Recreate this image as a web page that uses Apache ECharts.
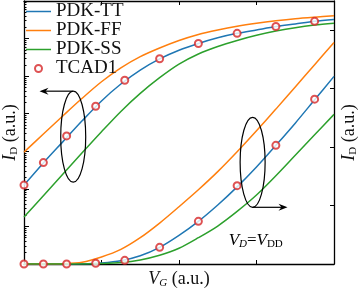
<!DOCTYPE html>
<html><head><meta charset="utf-8">
<script src="https://cdn.jsdelivr.net/npm/echarts@6/dist/echarts.min.js"></script>
<style>html,body{margin:0;padding:0;background:#fff}#c{width:359px;height:289px}</style>
</head><body><div id="c"></div>
<script>
// ---- data ----
const vg = [0, 0.25, 0.5, 0.75, 1, 1.25, 1.5, 1.75, 2, 2.25, 2.5, 2.75, 3, 3.25, 3.5, 3.75, 4];
// log-scale currents (left axis)
const ttLog = [1.26e-5, 4.9e-5, 1.78e-4, 6.46e-4, 2.19e-3, 6.17e-3, 1.45e-2, 2.88e-2, 4.9e-2, 7.41e-2, 0.105, 0.138, 0.170, 0.209, 0.245, 0.288, 0.324];
const ffLog = [9.5e-5, 2.88e-4, 8.7e-4, 2.57e-3, 7.08e-3, 1.66e-2, 3.31e-2, 5.62e-2, 8.91e-2, 0.129, 0.170, 0.214, 0.257, 0.299, 0.339, 0.372, 0.403];
const ssLog = [1.78e-6, 6.6e-6, 2.45e-5, 9.1e-5, 3.31e-4, 1.15e-3, 3.47e-3, 9.1e-3, 2.09e-2, 3.89e-2, 6.17e-2, 8.91e-2, 0.122, 0.158, 0.195, 0.229, 0.257];
// linear-scale currents (right axis)
const ttLin = [0, 0, 0, 0.003, 0.018, 0.055, 0.14, 0.285, 0.49, 0.73, 1.01, 1.32, 1.66, 2.03, 2.41, 2.81, 3.21];
const ffLin = [0, 0, 0.005, 0.03, 0.12, 0.25, 0.45, 0.70, 0.98, 1.27, 1.58, 1.92, 2.28, 2.65, 3.03, 3.41, 3.79];
const ssLin = [0, 0, 0, 0.001, 0.008, 0.025, 0.07, 0.15, 0.27, 0.45, 0.65, 0.90, 1.18, 1.51, 1.86, 2.21, 2.56];
// TCAD points
const vgTcad = [0, 0.25, 0.55, 0.925, 1.3, 1.75, 2.25, 2.75, 3.25, 3.75];
const tcadLog = [1.26e-5, 5.0e-5, 2.57e-4, 1.58e-3, 7.8e-3, 2.9e-2, 7.4e-2, 0.138, 0.209, 0.288];
const tcadLin = [0, 0, 0, 0.012, 0.063, 0.285, 0.73, 1.34, 2.03, 2.82];
// names
const seriesNames = ['PDK-TT', 'PDK-FF', 'PDK-SS', 'TCAD1'];
// annotation anchors (data coordinates)
const leftLoopCenter = [0.635, 2.45e-4];
const leftArrow = [[0.63, 3.98e-3], [0.20, 3.98e-3]];
const rightLoopCenter = [2.95, 1.74];
const rightArrow = [[2.95, 0.97], [3.40, 0.97]];
const vdLabelPos = [2.99, 0.41];

const colors = ['#1f77b4', '#ff7f0e', '#2ca02c', '#d62728'];
const FONT = 'Liberation Serif';
const zip = (xs, ys) => xs.map((x, i) => [x, ys[i]]);

const majorLog = [];
const minorLog = [];
for (let e = -7; e <= 0; e++) {
  majorLog.push(Math.pow(10, e));
  if (e < 0) for (let k = 2; k <= 9; k++) minorLog.push(k * Math.pow(10, e));
}

function rich(size) {
  return {
    i: { fontFamily: FONT, fontStyle: 'italic', fontSize: size, color: '#111' },
    s: { fontFamily: FONT, fontSize: 11, color: '#111', padding: [9, 0, 0, 0] },
    si: { fontFamily: FONT, fontStyle: 'italic', fontSize: 11, color: '#111', padding: [9, 0, 0, 0] },
    n: { fontFamily: FONT, fontSize: size, color: '#111' }
  };
}
const axisRich = rich(18);
const noteRich = rich(17);

const axisLineStyle = { color: '#000', width: 1.3 };
const lineIcon = 'path://M0,0L40,0L40,2.4L0,2.4Z';

const chart = echarts.init(document.getElementById('c'), null, { renderer: 'canvas' });

function lineSeries(name, data, color, yIdx) {
  return {
    type: 'line', name, data, xAxisIndex: 0, yAxisIndex: yIdx,
    symbol: 'none', smooth: 0.3,
    lineStyle: { color, width: 1.5 }, itemStyle: { color },
    animation: false, z: 2
  };
}
function tcadSeries(data, yIdx) {
  return {
    type: 'scatter', name: seriesNames[3], data, xAxisIndex: 0, yAxisIndex: yIdx,
    symbol: 'emptyCircle', symbolSize: 7,
    itemStyle: { color: colors[3], borderColor: colors[3], borderWidth: 1.5 },
    animation: false, z: 5
  };
}

chart.setOption({
  animation: false,
  backgroundColor: '#fff',
  grid: { left: 24, right: 25, top: 1, bottom: 25, containLabel: false, outerBoundsMode: 'none' },
  legend: {
    orient: 'vertical', left: 26, top: 2, padding: 0, itemWidth: 25, itemHeight: 7, itemGap: 0,
    data: [
      { name: seriesNames[0], icon: lineIcon },
      { name: seriesNames[1], icon: lineIcon },
      { name: seriesNames[2], icon: lineIcon },
      { name: seriesNames[3], icon: 'emptyCircle' }
    ],
    textStyle: { fontFamily: FONT, fontSize: 19, color: '#111' }
  },
  xAxis: [
    {
      type: 'value', min: 0, max: 4, interval: 1, position: 'bottom',
      axisLine: { lineStyle: axisLineStyle },
      axisTick: { inside: true, length: 4, lineStyle: { color: '#000' } },
      axisLabel: { show: false }, splitLine: { show: false },
      name: '{i|V}{si|G}{n| (a.u.)}', nameLocation: 'middle', nameGap: 5,
      nameTextStyle: { rich: axisRich }
    },
    {
      type: 'value', min: 0, max: 4, interval: 1, position: 'top',
      axisLine: { lineStyle: axisLineStyle },
      axisTick: { inside: true, length: 4, lineStyle: { color: '#000' } },
      axisLabel: { show: false }, splitLine: { show: false }
    }
  ],
  yAxis: [
    {
      type: 'log', logBase: 10, min: 1e-7, max: 1, position: 'left',
      axisLine: { lineStyle: axisLineStyle },
      axisTick: { inside: true, length: 5, customValues: majorLog, lineStyle: { color: '#000' } },
      axisLabel: { show: false }, splitLine: { show: false },
      name: '{i|I}{s|D}{n| (a.u.)}', nameLocation: 'middle', nameGap: 4, nameRotate: 90,
      nameTextStyle: { rich: axisRich }
    },
    {
      type: 'log', logBase: 10, min: 1e-7, max: 1, position: 'left', offset: 0,
      axisLine: { show: false },
      axisTick: { inside: true, length: 2.5, customValues: minorLog, lineStyle: { color: '#000' } },
      axisLabel: { show: false }, splitLine: { show: false }
    },
    {
      type: 'value', min: 0, max: 4.5, interval: 1, position: 'right',
      axisLine: { lineStyle: axisLineStyle },
      axisTick: { inside: true, length: 4, lineStyle: { color: '#000' } },
      axisLabel: { show: false }, splitLine: { show: false },
      name: '{i|I}{s|D}{n| (a.u.)}', nameLocation: 'middle', nameGap: 5, nameRotate: 90,
      nameTextStyle: { rich: axisRich }
    }
  ],
  series: [
    lineSeries(seriesNames[0], zip(vg, ttLog), colors[0], 0),
    lineSeries(seriesNames[1], zip(vg, ffLog), colors[1], 0),
    lineSeries(seriesNames[2], zip(vg, ssLog), colors[2], 0),
    lineSeries(seriesNames[0], zip(vg, ttLin), colors[0], 2),
    lineSeries(seriesNames[1], zip(vg, ffLin), colors[1], 2),
    lineSeries(seriesNames[2], zip(vg, ssLin), colors[2], 2),
    tcadSeries(zip(vgTcad, tcadLog), 0),
    tcadSeries(zip(vgTcad, tcadLin), 2)
  ]
});

// annotations placed through the axes' own scales
const L = { xAxisIndex: 0, yAxisIndex: 0 };
const R = { xAxisIndex: 0, yAxisIndex: 2 };
const lc = chart.convertToPixel(L, leftLoopCenter);
const la0 = chart.convertToPixel(L, leftArrow[0]);
const la1 = chart.convertToPixel(L, leftArrow[1]);
const rc = chart.convertToPixel(R, rightLoopCenter);
const ra0 = chart.convertToPixel(R, rightArrow[0]);
const ra1 = chart.convertToPixel(R, rightArrow[1]);
const vp = chart.convertToPixel(R, vdLabelPos);

function arrow(p0, p1) {
  const dir = Math.sign(p1[0] - p0[0]);
  const hx = p1[0], hy = p1[1];
  return [
    { type: 'line', shape: { x1: p0[0], y1: p0[1], x2: hx - dir * 4, y2: hy }, style: { stroke: '#000', lineWidth: 1.2 }, z: 10 },
    { type: 'polygon', shape: { points: [[hx, hy], [hx - dir * 9, hy - 3.5], [hx - dir * 6, hy], [hx - dir * 9, hy + 3.5]] }, style: { fill: '#000' }, z: 10 }
  ];
}

chart.setOption({
  graphic: [
    { type: 'ellipse', shape: { cx: lc[0], cy: lc[1], rx: 12.5, ry: 45.5 }, style: { fill: null, stroke: '#000', lineWidth: 1.2 }, z: 10 },
    { type: 'ellipse', shape: { cx: rc[0], cy: rc[1], rx: 12.5, ry: 45 }, style: { fill: null, stroke: '#000', lineWidth: 1.2 }, z: 10 },
    ...arrow(la0, la1),
    ...arrow(ra0, ra1),
    {
      type: 'text', x: vp[0], y: vp[1], z: 10,
      style: {
        text: '{i|V}{si|D}{n|=}{i|V}{s|DD}', align: 'center', verticalAlign: 'middle',
        rich: noteRich
      }
    }
  ]
});
</script></body></html>
